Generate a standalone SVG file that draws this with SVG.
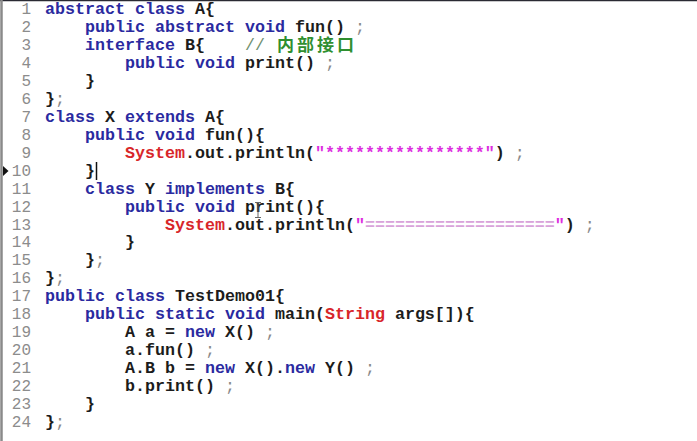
<svg xmlns="http://www.w3.org/2000/svg" width="697" height="441" viewBox="0 0 697 441">
<style>
text{white-space:pre}
.c{font-family:"Liberation Mono","DejaVu Sans Mono",monospace;font-size:16.67px;font-weight:bold;fill:#1c1c1c}
.n{font-family:"Liberation Mono","DejaVu Sans Mono",monospace;font-size:16px;fill:#8c8c8c;text-anchor:end}
.k{fill:#2a2aa0}
.r{fill:#d8262a}
.s{fill:#dd2ee0}
.p{fill:#d9a2da}
.g{fill:#8a8a8a;font-weight:normal}
.cm{fill:#6f8f6f;font-weight:normal}
.zh{font-family:"Noto Sans CJK SC","Noto Sans",sans-serif;font-size:17px;letter-spacing:3px;font-weight:bold;fill:#2f8f2f}
</style>
<rect x="0" y="0" width="697" height="441" fill="#ffffff"/>
<line x1="0" y1="0.5" x2="697" y2="0.5" stroke="#2a2a33" stroke-width="1.5"/>
<line x1="1.5" y1="0" x2="1.5" y2="441" stroke="#8a8a8a" stroke-width="2.5"/>
<polygon points="3,166 8.5,171 3,176" fill="#111"/>
<g id="line-numbers">
<text class="n" x="31" y="14">1</text>
<text class="n" x="31" y="31.96">2</text>
<text class="n" x="31" y="49.92">3</text>
<text class="n" x="31" y="67.88">4</text>
<text class="n" x="31" y="85.84">5</text>
<text class="n" x="31" y="103.8">6</text>
<text class="n" x="31" y="121.76">7</text>
<text class="n" x="31" y="139.72">8</text>
<text class="n" x="31" y="157.68">9</text>
<text class="n" x="31" y="175.64">10</text>
<text class="n" x="31" y="193.6">11</text>
<text class="n" x="31" y="211.56">12</text>
<text class="n" x="31" y="229.52">13</text>
<text class="n" x="31" y="247.48">14</text>
<text class="n" x="31" y="265.44">15</text>
<text class="n" x="31" y="283.4">16</text>
<text class="n" x="31" y="301.36">17</text>
<text class="n" x="31" y="319.32">18</text>
<text class="n" x="31" y="337.28">19</text>
<text class="n" x="31" y="355.24">20</text>
<text class="n" x="31" y="373.2">21</text>
<text class="n" x="31" y="391.16">22</text>
<text class="n" x="31" y="409.12">23</text>
<text class="n" x="31" y="427.08">24</text>
</g>
<g id="code">
<text class="c" x="45" y="14"><tspan class="k">abstract class</tspan> A{</text>
<text class="c" x="85" y="31.96"><tspan class="k">public abstract void</tspan> fun() <tspan class="g">;</tspan></text>
<text class="c" x="85" y="49.92"><tspan class="k">interface</tspan> B{    <tspan class="cm">//</tspan><tspan class="zh" x="277" y="51">内部接口</tspan></text>
<text class="c" x="125" y="67.88"><tspan class="k">public void</tspan> print() <tspan class="g">;</tspan></text>
<text class="c" x="85" y="85.84">}</text>
<text class="c" x="45" y="103.8">}<tspan class="g">;</tspan></text>
<text class="c" x="45" y="121.76"><tspan class="k">class</tspan> X <tspan class="k">extends</tspan> A{</text>
<text class="c" x="85" y="139.72"><tspan class="k">public void</tspan> fun(){</text>
<text class="c" x="125" y="157.68"><tspan class="r">System</tspan>.out.println(<tspan class="s">"****************"</tspan>) <tspan class="g">;</tspan></text>
<text class="c" x="85" y="175.64">}</text>
<text class="c" x="85" y="193.6"><tspan class="k">class</tspan> Y <tspan class="k">implements</tspan> B{</text>
<text class="c" x="125" y="211.56"><tspan class="k">public void</tspan> print(){</text>
<text class="c" x="165" y="229.52"><tspan class="r">System</tspan>.out.println(<tspan class="s">"</tspan><tspan class="p">===================</tspan><tspan class="s">"</tspan>) <tspan class="g">;</tspan></text>
<text class="c" x="125" y="247.48">}</text>
<text class="c" x="85" y="265.44">}<tspan class="g">;</tspan></text>
<text class="c" x="45" y="283.4">}<tspan class="g">;</tspan></text>
<text class="c" x="45" y="301.36"><tspan class="k">public class</tspan> TestDemo01{</text>
<text class="c" x="85" y="319.32"><tspan class="k">public static void</tspan> main(<tspan class="r">String</tspan> args[]){</text>
<text class="c" x="125" y="337.28">A a = <tspan class="k">new</tspan> X() <tspan class="g">;</tspan></text>
<text class="c" x="125" y="355.24">a.fun() <tspan class="g">;</tspan></text>
<text class="c" x="125" y="373.2">A.B b = <tspan class="k">new</tspan> X().<tspan class="k">new</tspan> Y() <tspan class="g">;</tspan></text>
<text class="c" x="125" y="391.16">b.print() <tspan class="g">;</tspan></text>
<text class="c" x="85" y="409.12">}</text>
<text class="c" x="45" y="427.08">}<tspan class="g">;</tspan></text>
</g>
<line x1="96.5" y1="162" x2="96.5" y2="180" stroke="#111" stroke-width="1.5"/>
<path d="M255 202.5h6M258 202.5v15M255 217.5h6" stroke="#666" stroke-width="1" fill="none"/>
</svg>
